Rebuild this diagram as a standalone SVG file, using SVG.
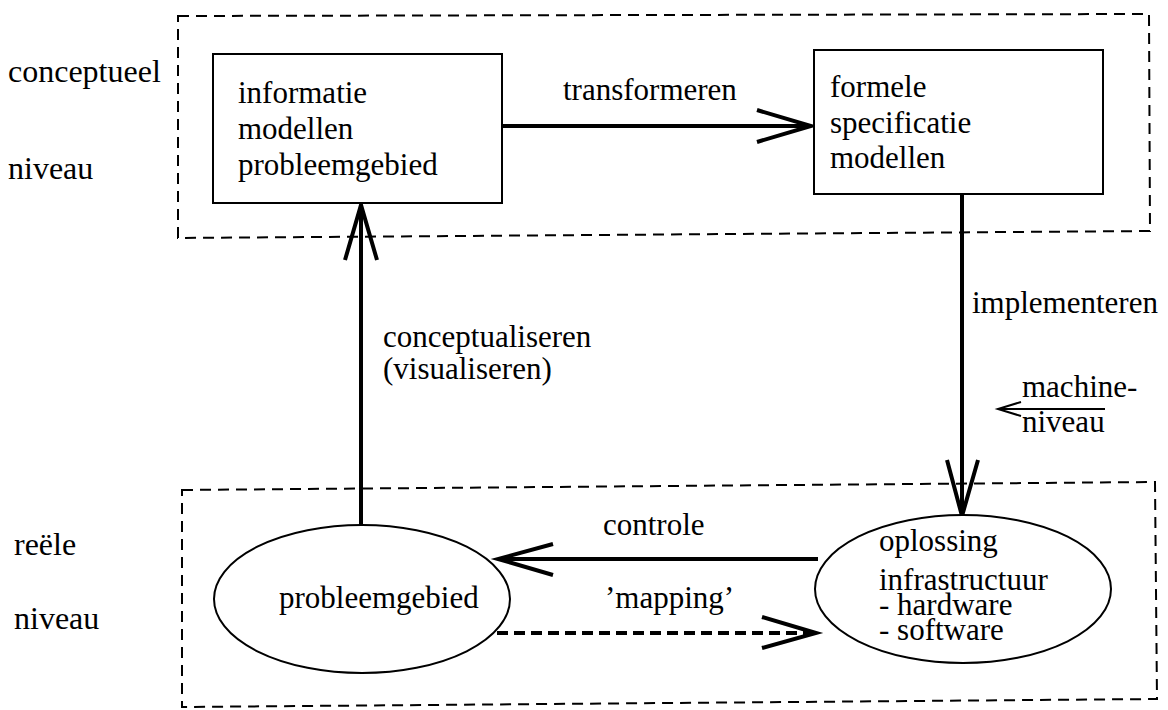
<svg xmlns="http://www.w3.org/2000/svg" width="1168" height="710" viewBox="0 0 1168 710">
<style>
.frame{fill:none;stroke:#000;stroke-width:2;stroke-dasharray:11 7}
.node{fill:#fff;stroke:#000;stroke-width:2}
.edge{fill:none;stroke:#000;stroke-width:4}
.head{fill:none;stroke:#000;stroke-width:4;stroke-linejoin:miter}
.dash{stroke-dasharray:11 6}
.thin{fill:none;stroke:#000;stroke-width:2}
.lvl{font-size:32px}
</style>
<rect width="1168" height="710" fill="#fff"/>
<g font-family="'Liberation Serif', 'Times New Roman', 'DejaVu Serif', serif" font-size="31" fill="#000">
<g id="levels">
<path class="frame" d="M178,16 L1149,14 L1150,231 L178,238 Z"/>
<path class="frame" d="M182,490 L1155,482 L1157,699 L182,707 Z"/>
<text class="lvl" x="8" y="82">conceptueel</text>
<text class="lvl" x="8" y="179">niveau</text>
<text class="lvl" x="14" y="555">reële</text>
<text class="lvl" x="14" y="629">niveau</text>
</g>
<g id="connectors">
<line class="edge" x1="502" y1="126" x2="811" y2="126"/>
<polyline class="head" points="757,110 811,126 757,142"/>
<line class="edge" x1="962" y1="194" x2="962" y2="516"/>
<polyline class="head" points="947,460 962,516 978,460"/>
<line class="edge" x1="361" y1="525" x2="361" y2="205"/>
<polyline class="head" points="345,260 361,205 377,260"/>
<line class="edge" x1="818" y1="559" x2="498" y2="559"/>
<polyline class="head" points="553,544 498,559 553,575"/>
<line class="edge dash" x1="497" y1="633" x2="814" y2="633"/>
<polyline class="head" points="762,617 816,633 762,648"/>
<line class="thin" x1="1105" y1="409" x2="998" y2="409"/>
<polyline class="thin" points="1021,402 998,409 1021,416"/>
<text x="563" y="100">transformeren</text>
<text x="972" y="313">implementeren</text>
<text x="383" y="347">conceptualiseren</text>
<text x="383" y="379">(visualiseren)</text>
<text x="1022" y="397">machine-</text>
<text x="1022" y="432">niveau</text>
<text x="603" y="535">controle</text>
<text x="605" y="608">’mapping’</text>
</g>
<g id="informatiemodellen">
<rect class="node" x="213" y="54" width="289" height="149"/>
<text x="238" y="103">informatie</text>
<text x="238" y="139">modellen</text>
<text x="238" y="175">probleemgebied</text>
</g>
<g id="formelespecificatie">
<rect class="node" x="814" y="50" width="289" height="144"/>
<text x="830" y="97">formele</text>
<text x="830" y="133">specificatie</text>
<text x="830" y="168">modellen</text>
</g>
<g id="probleemgebied">
<ellipse class="node" cx="362" cy="599" rx="148" ry="74"/>
<text x="279" y="608">probleemgebied</text>
</g>
<g id="oplossing">
<ellipse class="node" cx="963" cy="589" rx="148" ry="74"/>
<text x="879" y="551">oplossing</text>
<text x="879" y="590">infrastructuur</text>
<text x="879" y="615">- hardware</text>
<text x="879" y="640">- software</text>
</g>
</g>
</svg>
